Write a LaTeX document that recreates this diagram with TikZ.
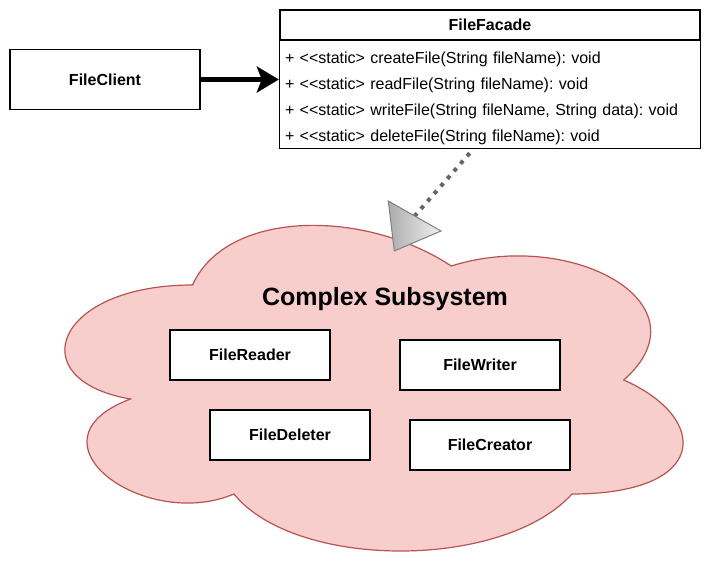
\documentclass[tikz,border=0pt]{standalone}
\usepackage{fontspec}
\setmainfont{Liberation Sans}[Ligatures=TeXOff]
\usetikzlibrary{arrows.meta,positioning,fit,calc}
\definecolor{cloudfill}{HTML}{F8CECC}
\definecolor{cloudline}{HTML}{B85450}
\definecolor{dotgray}{HTML}{666666}
\definecolor{headgray}{HTML}{808080}
\frenchspacing
\tikzset{
  clientbox/.style={
    rectangle, draw=black, line width=1.2pt, fill=white,
    minimum width=190pt, minimum height=60pt, text centered,
    font=\fontsize{16}{19}\selectfont\bfseries
  },
  subbox/.style={
    rectangle, draw=black, line width=1.2pt, fill=white,
    minimum width=160pt, minimum height=50pt, text centered,
    font=\fontsize{16}{19}\selectfont\bfseries
  },
  umlhead/.style={
    rectangle, draw=black, line width=1.2pt,
    minimum width=420pt, minimum height=30pt, text centered,
    font=\fontsize{16}{19}\selectfont\bfseries
  },
  umlop/.style={
    rectangle, inner xsep=5pt, inner ysep=0pt, text width=410pt,
    minimum height=25.6pt, text height=11.5pt, text depth=0pt,
    align=left, font=\fontsize{16}{19}\selectfont
  },
  callmsg/.style={-{Stealth[length=22pt,width=26pt,inset=5pt]}, line width=5pt, black},
  usesmsg/.style={line width=4pt, dotgray, dash pattern=on 4pt off 6pt, dash phase=5pt}
}

\begin{document}
\begin{tikzpicture}[x=1pt, y=-1pt]
  \useasboundingbox (0,0) rectangle (721,581);

  % subsystem cloud
  \draw[fill=cloudfill, draw=cloudline, line width=1.2pt]
    (192.5,285) .. controls (54.5,285) and (20,380) .. (130.4,399)
    .. controls (20,440.8) and (144.2,532) .. (233.9,494)
    .. controls (296,570) and (503,570) .. (572,494)
    .. controls (710,494) and (710,418) .. (623.75,380)
    .. controls (710,304) and (572,228) .. (451.25,266)
    .. controls (365,209) and (227,209) .. cycle;
  \node[font=\fontsize{25}{30}\selectfont\bfseries, anchor=base] (subtitle)
    at (385,305) {Complex Subsystem};

  \node[subbox] (reader) at (250,355) {FileReader};
  \node[subbox] (writer) at (480,365) {FileWriter};
  \node[subbox] (deleter) at (290,435) {FileDeleter};
  \node[subbox] (creator) at (490,445) {FileCreator};

  % client and facade
  \node[clientbox] (client) at (105,79.5) {FileClient};
  \node[umlhead] (facade) at (490,25) {FileFacade};
  \node[umlop, below=4.2pt of facade] (op1)
    {+ <\kern0pt<static> createFile(String fileName): void};
  \node[umlop, below=0pt of op1] (op2)
    {+ <\kern0pt<static> readFile(String fileName): void};
  \node[umlop, below=0pt of op2] (op3)
    {+ <\kern0pt<static> writeFile(String fileName, String data): void};
  \node[umlop, below=0pt of op3] (op4)
    {+ <\kern0pt<static> deleteFile(String fileName): void};
  \node[draw=black, line width=1.2pt, inner sep=0pt, fit=(facade)(op4)] (facadebox) {};

  \draw[callmsg] (client.east) -- (client.east -| facadebox.west);

  \coordinate (headbase) at (414.7,216);
  \draw[usesmsg] ([xshift=-17pt]facadebox.south) -- (headbase);
  \shade[left color=gray!65, right color=gray!12, draw=headgray, line width=1pt]
    (388.3,201) -- (441,231) -- (394.3,251) -- cycle;
\end{tikzpicture}
\end{document}
